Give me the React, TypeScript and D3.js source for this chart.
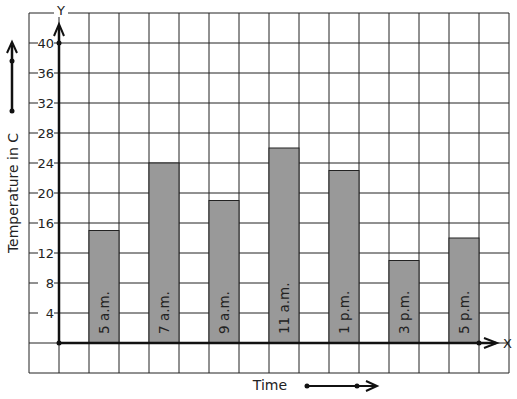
import React from "react";
import * as d3 from "d3";

const categories = ["5 a.m.", "7 a.m.", "9 a.m.", "11 a.m.", "1 p.m.", "3 p.m.", "5 p.m."];
const temperatures = [15, 24, 19, 26, 23, 11, 14];
const yTicks = [4, 8, 12, 16, 20, 24, 28, 32, 36, 40];
const gridYValues = [-4, 0, 4, 8, 12, 16, 20, 24, 28, 32, 36, 40, 44];

const W = 517;
const H = 399;

export default function App() {
  const y = d3.scaleLinear().domain([-4, 44]).range([373, 13]);
  const x = d3.scaleBand<string>().domain(categories).range([59, 509]).paddingInner(0.5).paddingOuter(0.5);
  const colStep = x.step() / 2;
  const gridX = d3.range(0, 17).map((k) => 29 + k * colStep);
  const x0 = 59;
  const y0 = y(0);
  const font = "DejaVu Sans, sans-serif";
  const ink = "#111";

  return (
    <svg width={W} height={H} style={{ position: "absolute", left: 0, top: 0, background: "#fff" }}>
      <rect x={0} y={0} width={W} height={H} fill="#fff" />
      {/* grid */}
      {gridX.map((gx, i) => (
        <line key={"gx" + i} x1={gx} x2={gx} y1={y(44)} y2={y(-4)} stroke="#222" strokeWidth={1} />
      ))}
      {gridYValues.map((v) => (
        <line key={"gy" + v} x1={29} x2={509} y1={y(v)} y2={y(v)} stroke="#222" strokeWidth={1} />
      ))}
      {/* bars */}
      {categories.map((c, i) => (
        <rect
          key={c}
          x={x(c)}
          y={y(temperatures[i])}
          width={x.bandwidth()}
          height={y0 - y(temperatures[i])}
          fill="#999999"
          stroke="#222"
          strokeWidth={1}
        />
      ))}
      {categories.map((c) => {
        const cx = (x(c) as number) + x.bandwidth() / 2 + 4.5;
        const cy = y0 - 9;
        return (
          <text
            key={"l" + c}
            transform={`translate(${cx},${cy}) rotate(-90)`}
            fontFamily={font}
            fontSize={13.5}
            fill="#222"
            textAnchor="start"
          >
            {c}
          </text>
        );
      })}
      {/* y tick labels */}
      {yTicks.map((t) => (
        <g key={"t" + t}>
          <rect x={38} y={y(t) - 7} width={16} height={14} fill="#fff" />
          <text x={54} y={y(t) + 5} textAnchor="end" fontFamily={font} fontSize={13} fill="#222">
            {t}
          </text>
        </g>
      ))}
      {/* axes */}
      <line x1={x0} x2={x0} y1={y0} y2={26} stroke={ink} strokeWidth={2.5} />
      <polyline points={`${x0 - 5},${36} ${x0},${24} ${x0 + 5},${36}`} fill="none" stroke={ink} strokeWidth={2} />
      <line x1={x0} x2={496} y1={y0} y2={y0} stroke={ink} strokeWidth={2.5} />
      <polyline points={`${484},${y0 - 5} ${497},${y0} ${484},${y0 + 5}`} fill="none" stroke={ink} strokeWidth={2} />
      <circle cx={x0} cy={y(40)} r={2.5} fill={ink} />
      <circle cx={x0} cy={y0} r={2.5} fill={ink} />
      <circle cx={479} cy={y0} r={2.5} fill={ink} />
      {/* axis letters */}
      <rect x={54} y={3} width={14} height={14} fill="#fff" />
      <text x={61} y={15} textAnchor="middle" fontFamily={font} fontSize={13} fill="#222">Y</text>
      <text x={503} y={y0 + 5} textAnchor="start" fontFamily={font} fontSize={13} fill="#222">X</text>
      {/* y title */}
      <text
        transform={`translate(18,193) rotate(-90)`}
        textAnchor="middle"
        fontFamily={font}
        fontSize={14}
        fill="#222"
      >
        Temperature in C
      </text>
      <line x1={12} x2={12} y1={111} y2={45} stroke={ink} strokeWidth={2.5} />
      <polyline points="7,53 12,42 17,53" fill="none" stroke={ink} strokeWidth={2} />
      <circle cx={12} cy={111} r={2.5} fill={ink} />
      <circle cx={12} cy={61} r={2.5} fill={ink} />
      {/* x title */}
      <text x={270} y={390} textAnchor="middle" fontFamily={font} fontSize={14} fill="#222">Time</text>
      <line x1={307} x2={375} y1={386} y2={386} stroke={ink} strokeWidth={2} />
      <polyline points="366,381 377,386 366,391" fill="none" stroke={ink} strokeWidth={2} />
      <circle cx={307} cy={386} r={2.5} fill={ink} />
      <circle cx={357} cy={386} r={2.5} fill={ink} />
    </svg>
  );
}
